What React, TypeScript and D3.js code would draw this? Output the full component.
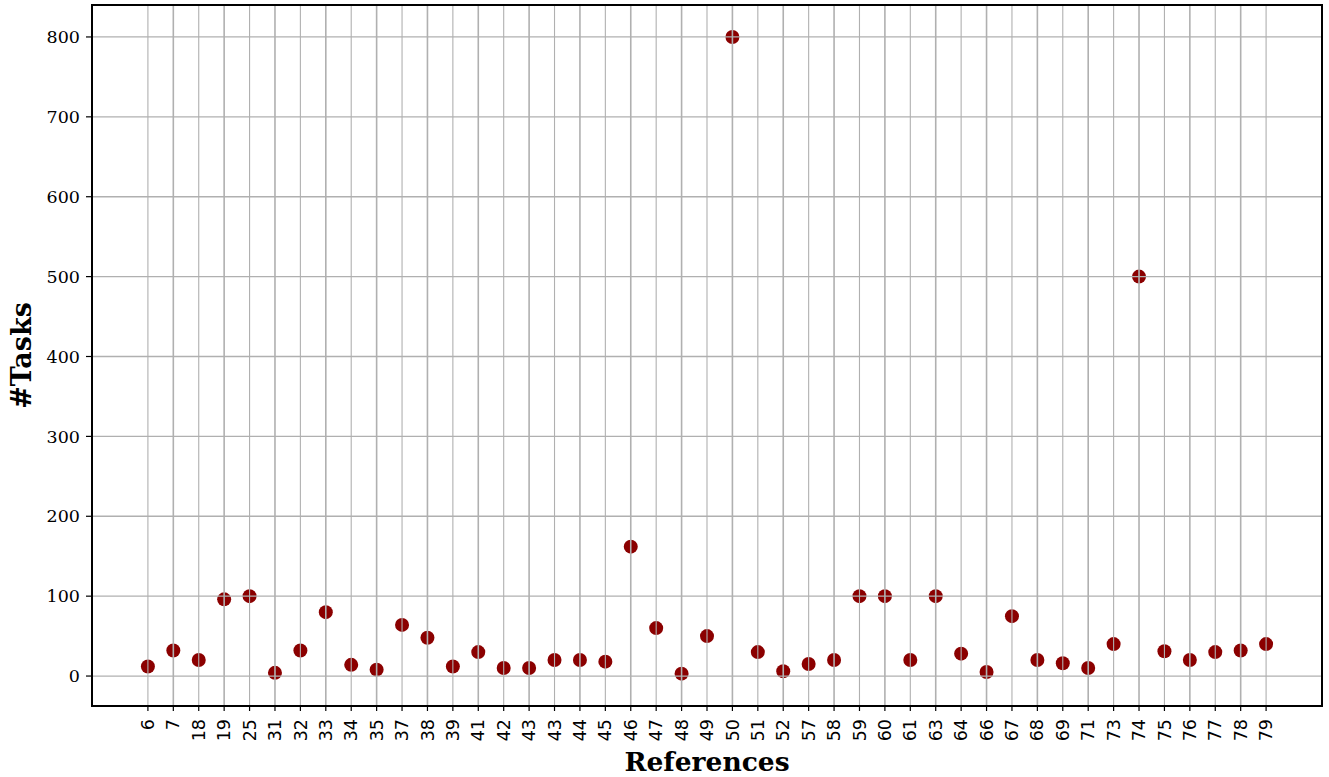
import React from 'react';
import * as d3 from 'd3';

const refs = ['6', '7', '18', '19', '25', '31', '32', '33', '34', '35', '37', '38', '39', '41', '42', '43', '43', '44', '45', '46', '47', '48', '49', '50', '51', '52', '57', '58', '59', '60', '61', '63', '64', '66', '67', '68', '69', '71', '73', '74', '75', '76', '77', '78', '79'];
const tasks = [12, 32, 20, 96, 100, 4, 32, 80, 14, 8, 64, 48, 12, 30, 10, 10, 20, 20, 18, 162, 60, 3, 50, 800, 30, 6, 15, 20, 100, 100, 20, 100, 28, 5, 75, 20, 16, 10, 40, 500, 31, 20, 30, 32, 40];
const yTicks = [0, 100, 200, 300, 400, 500, 600, 700, 800];

const W = 1329;
const H = 777;
const left = 92, right = 1322, top = 5, bottom = 706;

const App = () => {
    // index based x scale, labels repeat (43 twice)
    const x = d3.scaleLinear().domain([-2.2, refs.length - 1 + 2.2]).range([left, right]);
    const y = d3.scaleLinear().domain([-37.5, 840]).range([bottom, top]);
    const grid = '#b0b0b0';
    const serif = '"DejaVu Serif", serif';
    const sans = '"DejaVu Sans", sans-serif';

    return (
        <svg width={W} height={H} style={{ position: 'absolute', left: 0, top: 0, background: '#fff' }}>
            {/* points */}
            {tasks.map((v, i) => (
                <circle key={'p' + i} cx={x(i)} cy={y(v)} r={7} fill="#8b0000" />
            ))}
            {/* grid drawn above the markers */}
            {yTicks.map((t) => (
                <line key={'gy' + t} x1={left} x2={right} y1={y(t)} y2={y(t)} stroke={grid} strokeWidth={1.3} />
            ))}
            {refs.map((r, i) => (
                <line key={'gx' + i} x1={x(i)} x2={x(i)} y1={top} y2={bottom} stroke={grid} strokeWidth={i % 2 ? 1.6 : 1.1} />
            ))}
            {/* frame */}
            <rect x={left} y={top} width={right - left} height={bottom - top} fill="none" stroke="#000" strokeWidth={2} />
            {/* y ticks */}
            {yTicks.map((t) => (
                <g key={'ty' + t}>
                    <line x1={left - 6} x2={left} y1={y(t)} y2={y(t)} stroke="#000" strokeWidth={1.2} />
                    <text x={left - 12} y={y(t)} dy="0.35em" textAnchor="end" fontFamily={serif} fontSize={17.5} fill="#000">{t}</text>
                </g>
            ))}
            {/* x ticks */}
            {refs.map((r, i) => (
                <g key={'tx' + i}>
                    <line x1={x(i)} x2={x(i)} y1={bottom} y2={bottom + 5} stroke="#000" strokeWidth={1.2} />
                    <text transform={`translate(${x(i)},${bottom + 13}) rotate(-90)`} dy="0.35em" textAnchor="end" fontFamily={sans} fontSize={17.5} fill="#000">{r}</text>
                </g>
            ))}
            <text x={(left + right) / 2} y={771} textAnchor="middle" fontFamily={serif} fontWeight="bold" fontSize={26.5} fill="#000">References</text>
            <text transform={`translate(31,${(top + bottom) / 2}) rotate(-90)`} textAnchor="middle" fontFamily={serif} fontWeight="bold" fontSize={27} fill="#000">#Tasks</text>
        </svg>
    );
};

export default App;
